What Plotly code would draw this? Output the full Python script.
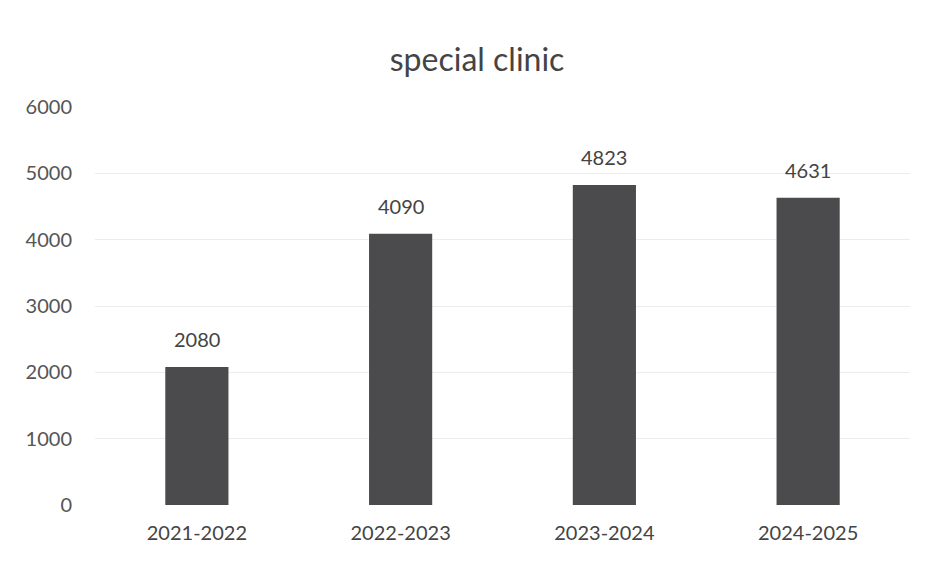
import plotly.graph_objects as go

categories = ["2021-2022", "2022-2023", "2023-2024", "2024-2025"]
values = [2080, 4090, 4823, 4631]
y_ticks = [0, 1000, 2000, 3000, 4000, 5000, 6000]

fig = go.Figure(go.Bar(
    x=categories, y=values,
    marker=dict(color="#4b4b4d", line=dict(width=0)),
    cliponaxis=False,
))

for c, v in zip(categories, values):
    fig.add_annotation(x=c, y=v, text=str(v), showarrow=False, yanchor="bottom",
                       yshift=14, font=dict(size=20, color="#444444", family="Lato"))

fig.update_layout(
    width=930, height=561,
    paper_bgcolor="white", plot_bgcolor="white",
    margin=dict(l=95, r=20, t=107, b=56),
    title=dict(text="special clinic", x=0.513, xanchor="center", y=0.893, yanchor="middle",
               font=dict(size=32, color="#444444", family="Lato")),
    bargap=0.69,
    showlegend=False,
    font=dict(family="Lato", color="#555555"),
)
fig.update_xaxes(showline=False, ticks="", ticklabelstandoff=14,
                 tickfont=dict(size=20, color="#444444"))
fig.update_yaxes(range=[0, 6000], tickvals=y_ticks, showgrid=True, gridcolor="#ececec",
                 zeroline=False, showline=False, ticks="", ticklabelstandoff=22,
                 tickfont=dict(size=20, color="#555555"))

fig.write_html("out.html")
